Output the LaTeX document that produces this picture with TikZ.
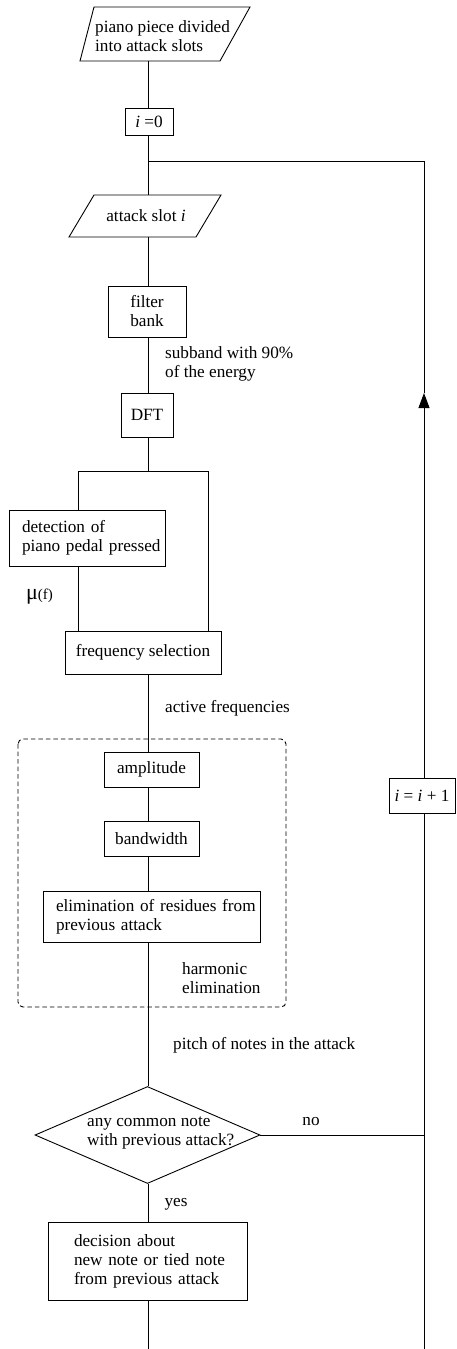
\documentclass[tikz,border=0pt]{standalone}
\usepackage{fontspec}
\setmainfont{Liberation Serif}
\usetikzlibrary{arrows.meta,shapes.geometric}
\begin{document}
\begin{tikzpicture}[x=1pt,y=-1pt,
  every node/.style={font=\fontsize{17.2}{19}\selectfont},
  ln/.style={line width=0.9pt},
  box/.style={draw, line width=0.9pt, rectangle, inner sep=0pt, align=center},
  lbox/.style={draw, line width=0.9pt, rectangle, inner ysep=0pt, align=left},
  lbl/.style={inner sep=0pt, align=left, anchor=west},
]
\useasboundingbox (0,0) rectangle (456,1349);

% coordinates on the main axis
\coordinate (p1b) at (148,61);
\coordinate (p2t) at (148,195);
\coordinate (p2b) at (148,237);
\coordinate (j0) at (148,161);
\coordinate (split) at (148,471);
\coordinate (sl) at (78,471);
\coordinate (sr) at (208,471);
\coordinate (mb) at (148,1349);
\coordinate (rt) at (424,161);
\coordinate (rb) at (424,1349);
\coordinate (arr) at (424,393);

% input parallelograms
\draw[ln] (80,61) -- (94,7) -- (250,7) -- (220,61) -- cycle;
\node[lbl] (p1) at (95,36) {piano piece divided\\into attack slots};
\draw[ln] (69,237) -- (94,195) -- (221,195) -- (196,237) -- cycle;
\node[inner sep=0pt] (p2) at (146,216) {attack slot \textit{i}};

% boxes
\node[box, minimum width=48pt, minimum height=27pt] (i0) at (149,121.5) {\textit{i} =0};
\node[box, minimum width=78pt, minimum height=51pt] (filt) at (147,311.5) {filter\\bank};
\node[box, minimum width=52pt, minimum height=44pt] (dft) at (147,415) {DFT};
\node[lbox, inner xsep=13pt, text width=130pt, minimum height=56pt] (det) at (87,538)
  {\mbox{detection of}\\\mbox{piano pedal pressed}};
\node[box, minimum width=156pt, minimum height=43pt] (freq) at (143,652.5) {frequency selection};
\node[box, minimum width=95pt, minimum height=35pt] (amp) at (151.5,769.5) {amplitude};
\node[box, minimum width=95pt, minimum height=35pt] (bw) at (151.5,838.5) {bandwidth};
\node[lbox, inner xsep=13pt, text width=191pt, minimum height=51pt] (elim) at (151.5,916.5)
  {\mbox{elimination of residues from}\\\mbox{previous attack}};
\node[diamond, draw, line width=0.9pt, minimum width=225pt, minimum height=97pt, inner sep=0pt] (dec) at (147.5,1135) {};
\node[lbl] (dect) at (87,1133) {any common note\\with previous attack?};
\node[lbox, inner xsep=26pt, text width=147pt, minimum height=78pt] (decide) at (147.5,1261)
  {\mbox{decision about}\\\mbox{new note or tied note}\\\mbox{from previous attack}};
\node[box, minimum width=66pt, minimum height=35pt] (iplus) at (422,795.5) {\textit{i} = \textit{i} + 1};

% dashed group
\draw[ln, dash pattern=on 4.5pt off 3pt, rounded corners=5pt] (18,739) rectangle (286,1007);

% labels
\node[lbl] (lsub) at (165,364) {subband with 90\%\\of the energy};
\node[lbl] (lmu) at (26,597) {{\fontsize{22}{22}\selectfont μ}{\fontsize{15}{15}\selectfont(f)}};
\node[lbl] (lact) at (165,708) {active frequencies};
\node[lbl] (lharm) at (182,978) {harmonic\\elimination};
\node[lbl] (lpitch) at (173,1045) {pitch of notes in the attack};
\node[inner sep=0pt] (lno) at (311,1122) {no};
\node[inner sep=0pt] (lyes) at (176,1204) {yes};

% connectors
\draw[ln] (p1b) -- (p1b |- i0.north);
\draw[ln] (p1b |- i0.south) -- (p2t);
\draw[ln] (p2b) -- (p2b |- filt.north);
\draw[ln] (p2b |- filt.south) -- (p2b |- dft.north);
\draw[ln] (p2b |- dft.south) -- (split);
\draw[ln] (sl) -- (sr);
\draw[ln] (sl) -- (sl |- det.north);
\draw[ln] (sl |- det.south) -- (sl |- freq.north);
\draw[ln] (sr) -- (sr |- freq.north);
\draw[ln] (p2b |- freq.south) -- (p2b |- amp.north);
\draw[ln] (p2b |- amp.south) -- (p2b |- bw.north);
\draw[ln] (p2b |- bw.south) -- (p2b |- elim.north);
\draw[ln] (p2b |- elim.south) -- (p2b |- dec.north);
\draw[ln] (p2b |- dec.south) -- (p2b |- decide.north);
\draw[ln] (p2b |- decide.south) -- (mb);
\draw[ln] (dec.east) -- (dec.east -| rb);
\draw[ln] (rb) -- (rb |- iplus.south);
\draw[ln, -{Triangle[length=15pt,width=11pt]}] (rb |- iplus.north) -- (arr);
\draw[ln] (arr) -- (rt) -- (j0);
\end{tikzpicture}
\end{document}
